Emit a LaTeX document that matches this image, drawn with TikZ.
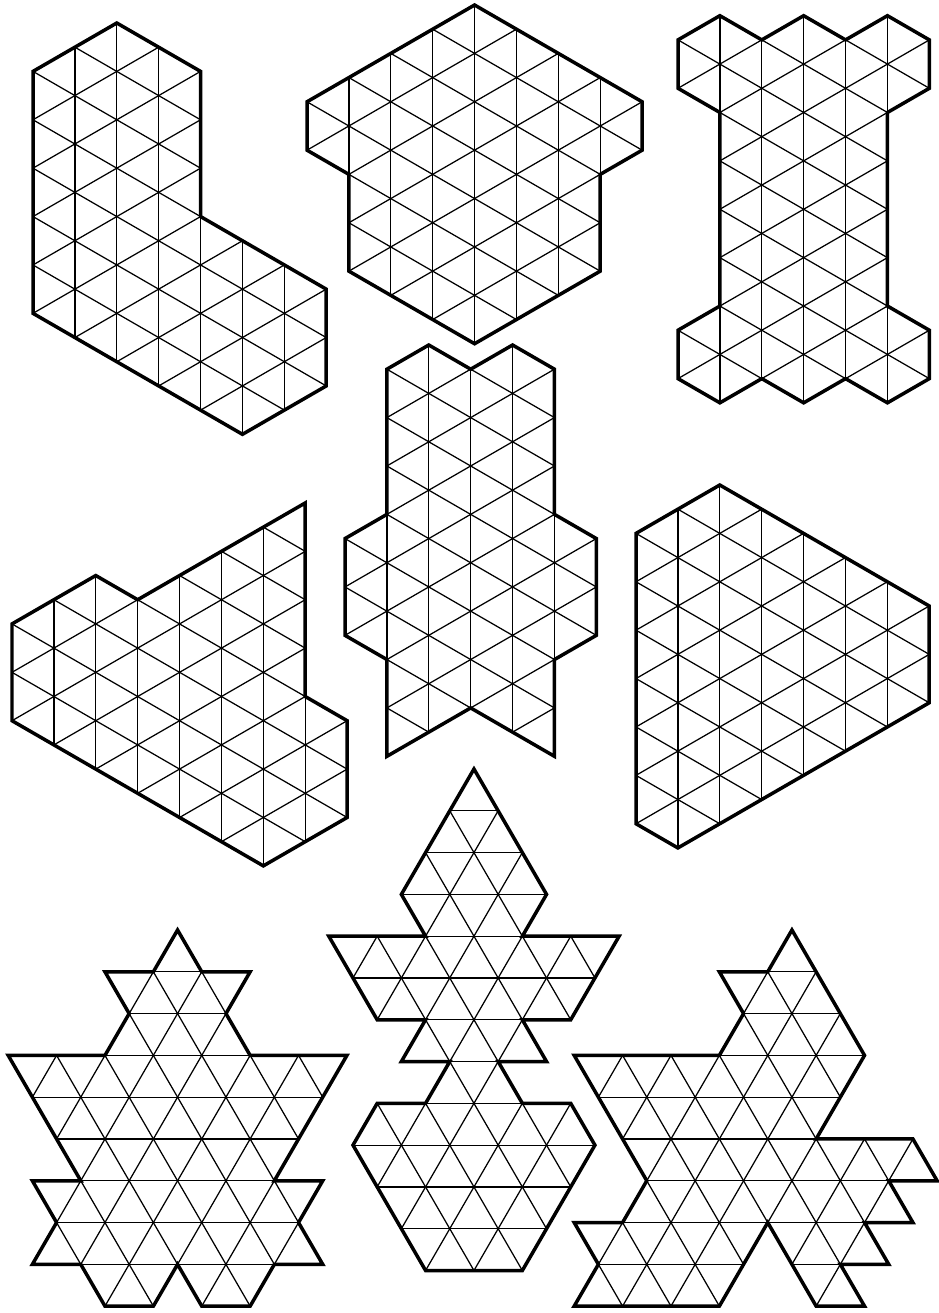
\documentclass[tikz,border=0pt]{standalone}

\tikzset{
  edge/.style={line width=0.07cm, line join=miter},
  gridline/.style={line width=0.025cm},
  vgrid/.style={x={(0.838cm,0)}, y={(0,-0.484cm)}},
  hgrid/.style={x={(0.484cm,0)}, y={(0,-0.836cm)}},
}

% slanted lines of the lattice
\newcommand{\slants}{%
  \foreach \c in {-20,-18,...,20}
    \draw[gridline] (-2,{-2-\c}) -- (20,{20-\c});
  \foreach \c in {0,2,...,38}
    \draw[gridline] (-2,{\c+2}) -- (20,{\c-20});
}
% piece with vertical edges
\newcommand{\vpiece}[1]{%
  \begin{scope}
    \clip #1;
    \foreach \i in {0,...,17}
      \draw[gridline] (\i,-1) -- (\i,20);
    \slants
  \end{scope}
  \draw[edge] #1;
}
% piece with horizontal edges
\newcommand{\hpiece}[1]{%
  \begin{scope}
    \clip #1;
    \foreach \r in {0,...,13}
      \draw[gridline] (-1,\r) -- (18,\r);
    \slants
  \end{scope}
  \draw[edge] #1;
}

\begin{document}
\begin{tikzpicture}[x=0.02cm, y=-0.02cm]
    \path[fill=white] (0,0) rectangle (936,1313);

    % top row
    \begin{scope}[shift={(33,23)}, vgrid]
      \vpiece{(2,0) -- (0,2) -- (0,12) -- (5,17) -- (7,15) -- (7,11) -- (4,8) -- (4,2) -- cycle}
    \end{scope}
    \begin{scope}[shift={(307,5)}, vgrid]
      \vpiece{(4,0) -- (0,4) -- (0,6) -- (1,7) -- (1,11) -- (4,14) -- (7,11) -- (7,7) -- (8,6) -- (8,4) -- cycle}
    \end{scope}
    \begin{scope}[shift={(678,-8.5)}, vgrid]
      \vpiece{(0,2) -- (1,1) -- (2,2) -- (3,1) -- (4,2) -- (5,1) -- (6,2) -- (6,4) -- (5,5) -- (5,13) -- (6,14) -- (6,16) -- (5,17) -- (4,16) -- (3,17) -- (2,16) -- (1,17) -- (0,16) -- (0,14) -- (1,13) -- (1,5) -- (0,4) -- cycle}
    \end{scope}

    % middle row
    \begin{scope}[shift={(12,478.75)}, vgrid]
      \vpiece{(0,6) -- (2,4) -- (3,5) -- (7,1) -- (7,9) -- (8,10) -- (8,14) -- (6,16) -- (0,10) -- cycle}
    \end{scope}
    \begin{scope}[shift={(345,345)}, vgrid]
      \vpiece{(2,0) -- (3,1) -- (4,0) -- (5,1) -- (5,7) -- (6,8) -- (6,12) -- (5,13) -- (5,17) -- (3,15) -- (1,17) -- (1,13) -- (0,12) -- (0,8) -- (1,7) -- (1,1) -- cycle}
    \end{scope}
    \begin{scope}[shift={(636,485)}, vgrid]
      \vpiece{(2,0) -- (7,5) -- (7,9) -- (1,15) -- (0,14) -- (0,2) -- cycle}
    \end{scope}

    % bottom row
    \begin{scope}[shift={(-16,930)}, hgrid]
      \hpiece{(8,0) -- (9,1) -- (11,1) -- (10,2) -- (11,3) -- (15,3) -- (12,6) -- (14,6) -- (13,7) -- (14,8) -- (12,8) -- (11,9) -- (9,9) -- (8,8) -- (7,9) -- (5,9) -- (4,8) -- (2,8) -- (3,7) -- (2,6) -- (4,6) -- (1,3) -- (5,3) -- (6,2) -- (5,1) -- (7,1) -- cycle}
    \end{scope}
    \begin{scope}[shift={(280.4,769)}, hgrid]
      \hpiece{(8,0) -- (11,3) -- (10,4) -- (14,4) -- (12,6) -- (10,6) -- (11,7) -- (9,7) -- (10,8) -- (12,8) -- (13,9) -- (10,12) -- (6,12) -- (3,9) -- (4,8) -- (6,8) -- (7,7) -- (5,7) -- (6,6) -- (4,6) -- (2,4) -- (6,4) -- (5,3) -- cycle}
    \end{scope}
    \begin{scope}[shift={(550,930)}, hgrid]
      \hpiece{(10,0) -- (13,3) -- (11,5) -- (15,5) -- (16,6) -- (14,6) -- (15,7) -- (13,7) -- (14,8) -- (12,8) -- (13,9) -- (11,9) -- (9,7) -- (7,9) -- (1,9) -- (2,8) -- (1,7) -- (3,7) -- (4,6) -- (1,3) -- (7,3) -- (8,2) -- (7,1) -- (9,1) -- cycle}
    \end{scope}
\end{tikzpicture}
\end{document}
